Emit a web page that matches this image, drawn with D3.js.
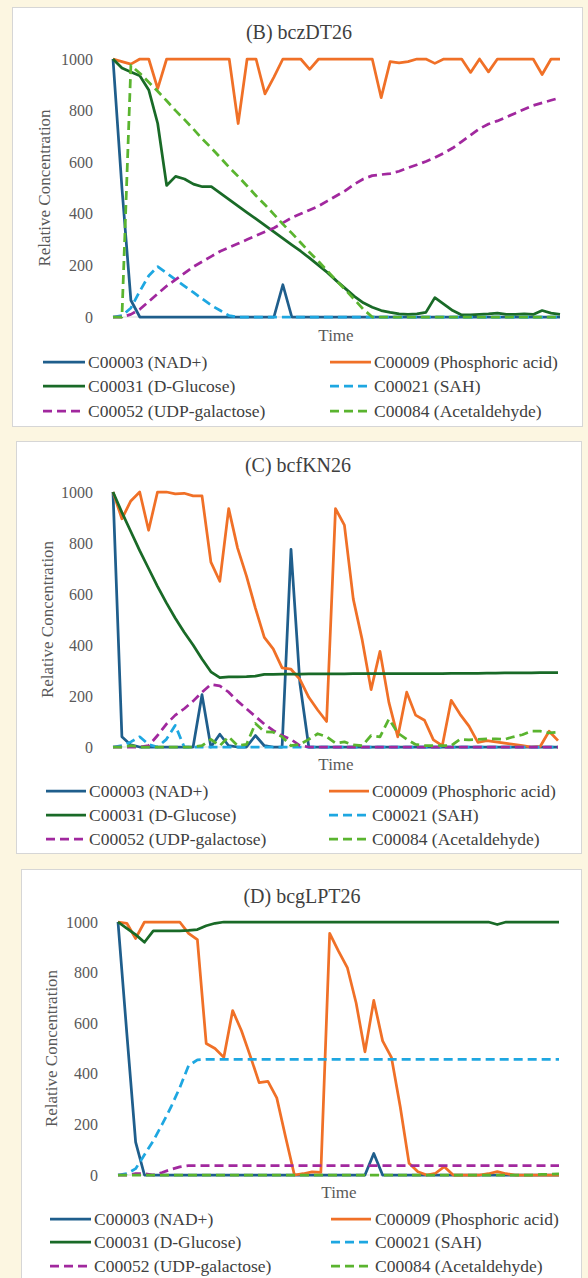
<!DOCTYPE html>
<html><head><meta charset="utf-8">
<script src="https://cdn.jsdelivr.net/npm/d3@7"></script>
<style>
html,body{margin:0;padding:0;background:#fcf6e1;}
svg{display:block;}
svg text{font-family:"Liberation Serif","DejaVu Serif","Times New Roman",serif;}
</style></head>
<body>
<svg id="chart" width="588" height="1278"></svg>
<script>
// ---------- DATA ----------
const timeSteps = [0,1,2,3,4,5,6,7,8,9,10,11,12,13,14,15,16,17,18,19,20,21,22,23,24,25,26,27,28,29,30,31,32,33,34,35,36,37,38,39,40,41,42,43,44,45,46,47,48,49,50];
const yTicks = [0,200,400,600,800,1000];

const seriesNames = ["C00003 (NAD+)","C00009 (Phosphoric acid)","C00031 (D-Glucose)","C00021 (SAH)","C00052 (UDP-galactose)","C00084 (Acetaldehyde)"];
const seriesColors = ["#1f5e8c","#f07027","#196a27","#1ea7e1","#a1289e","#5ab42f"];
const seriesDashed = [false,false,false,true,true,true];

const panelTitles = ["(B) bczDT26","(C) bcfKN26","(D) bcgLPT26"];

// Panel B
const bNAD  = [1000,500,65,0,0,0,0,0,0,0, 0,0,0,0,0,0,0,0,0,125, 0,0,0,0,0,0,0,0,0,0, 0,0,0,0,0,0,0,0,0,0, 0,0,0,0,0,0,0,0,0,0, 0];
const bPhos = [1000,990,980,1000,1000,885,1000,1000,1000,1000, 1000,1000,1000,1000,750,1000,1000,865,930,1000, 1000,1000,960,1000,1000,1000,1000,1000,1000,1000, 850,990,985,990,1000,1000,983,1000,1000,1000, 948,1000,950,1000,1000,1000,1000,1000,940,1000, 1000];
const bGluc = [1000,965,950,935,880,750,510,545,535,515, 505,505,480,455,430,405,380,355,330,305, 280,255,228,200,172,140,110,80,55,38, 25,18,12,10,12,18,75,50,25,8, 8,10,12,15,10,10,12,10,25,15, 10];
const bSAH  = [0,5,35,100,160,195,170,145,120,95, 70,45,25,5,0,0,0,0,0,0, 0,0,0,0,0,0,0,0,0,0, 0,0,0,0,0,0,0,0,0,0, 0,0,0,0,0,0,0,0,0,0, 0];
const bUDP  = [0,0,10,30,60,90,120,145,170,195, 215,235,255,270,285,300,315,330,345,365, 385,400,415,430,450,470,490,515,535,548, 552,556,565,578,590,603,618,635,655,680, 705,730,748,760,775,790,805,820,830,840, 850];
const bAcet = [0,0,975,945,910,875,838,800,765,728, 690,655,618,580,545,508,470,435,398,360, 325,288,250,215,178,140,105,68,30,0, 0,0,0,0,0,0,0,0,0,0, 0,0,0,0,0,0,0,0,0,0, 0];

// Panel C
const cNAD  = [1000,40,8,0,0,0,0,0,0,0, 205,0,50,5,0,0,45,5,0,0, 775,250,0,0,0,0,0,0,0,0, 0,0,0,0,0,0,0,0,0,0, 0,0,0,0,0,0,0,0,0,0, 0];
const cPhos = [1000,895,965,1000,850,1000,1000,993,995,985, 985,725,650,935,780,670,545,430,385,310, 305,265,195,145,100,935,870,580,420,225, 375,175,40,215,125,105,28,5,183,128, 82,18,25,20,15,10,5,0,2,62, 25];
const cGluc = [1000,920,845,770,700,630,565,505,450,400, 345,295,272,275,275,276,278,285,285,286, 286,286,287,287,287,287,287,288,288,288, 288,288,288,288,288,288,288,288,289,289, 289,289,290,290,291,291,291,291,292,292, 292];
const cSAH  = [0,5,20,40,10,0,30,85,0,0, 0,0,0,0,0,0,0,0,0,0, 0,0,0,0,0,0,0,0,0,0, 0,0,0,0,0,0,0,0,0,0, 0,0,0,0,0,0,0,0,0,0, 0];
const cUDP  = [0,0,0,0,5,45,90,125,150,180, 215,245,240,215,180,150,120,90,65,45, 30,5,0,0,0,0,0,0,0,0, 0,0,0,0,0,0,0,0,0,0, 0,0,0,0,0,0,0,0,0,0, 0];
const cAcet = [0,0,5,0,0,0,0,0,0,0, 5,30,5,40,5,10,92,60,58,40, 5,10,30,52,40,15,20,8,5,45, 40,110,55,30,10,5,5,5,5,30, 28,30,32,32,30,40,48,62,62,55, 58];

// Panel D
const dNAD  = [1000,560,130,0,0,0,0,0,0,0, 0,0,0,0,0,0,0,0,0,0, 0,0,0,0,0,0,0,0,0,85, 0,0,0,0,0,0,0,0,0,0, 0,0,0,0,0,0,0,0,0,0, 0];
const dPhos = [1000,995,935,1000,1000,1000,1000,1000,955,930, 520,500,465,650,570,470,365,370,305,150, 0,5,12,10,955,885,820,680,487,690, 530,465,270,46,13,0,7,33,0,0, 0,0,5,13,5,0,0,0,0,0, 0];
const dGluc = [1000,975,950,920,965,965,965,965,967,970, 985,995,1000,1000,1000,1000,1000,1000,1000,1000, 1000,1000,1000,1000,1000,1000,1000,1000,1000,1000, 1000,1000,1000,1000,1000,1000,1000,1000,1000,1000, 1000,1000,1000,990,1000,1000,1000,1000,1000,1000, 1000];
const dSAH  = [0,5,25,80,135,200,268,345,432,455, 457,457,457,457,457,457,457,457,457,457, 457,457,457,457,457,457,457,457,457,457, 457,457,457,457,457,457,457,457,457,457, 457,457,457,457,457,457,457,457,457,457, 457];
const dUDP  = [0,0,5,5,0,10,22,32,37,37, 37,37,37,37,37,37,37,37,37,37, 37,37,37,37,37,37,37,37,37,37, 37,37,37,37,37,37,37,37,37,37, 37,37,37,37,37,37,37,37,37,37, 37];
const dAcet = [0,0,0,0,0,0,0,0,0,0, 0,0,0,0,0,0,0,0,0,0, 0,0,0,0,0,0,0,0,0,0, 0,0,0,0,0,0,0,0,0,0, 0,0,0,0,0,0,0,0,2,3, 4];

// ---------- LAYOUT ----------
const panels = [
  {title: panelTitles[0], data: [bNAD,bPhos,bGluc,bSAH,bUDP,bAcet],
   rect:{x:12,y:7,w:570,h:419}, plot:{x0:113,x1:560,top:59,bot:317},
   titlePos:{x:299,y:39}, yLabX:44, timePos:{x:336,y:341},
   leg:{c1:[43,85,88], c2:[330,371,374], rows:[362,386,411]}},
  {title: panelTitles[1], data: [cNAD,cPhos,cGluc,cSAH,cUDP,cAcet],
   rect:{x:16,y:441,w:565,h:412}, plot:{x0:113,x1:558,top:492,bot:747},
   titlePos:{x:298,y:472}, yLabX:47, timePos:{x:336,y:770},
   leg:{c1:[46,86,89], c2:[329,369,372], rows:[791,815,839]}},
  {title: panelTitles[2], data: [dNAD,dPhos,dGluc,dSAH,dUDP,dAcet],
   rect:{x:21,y:869,w:560,h:430}, plot:{x0:118,x1:559,top:922,bot:1175},
   titlePos:{x:302,y:903}, yLabX:51, timePos:{x:339,y:1198},
   leg:{c1:[50,91,94], c2:[331,371,375], rows:[1219,1242,1266]}}
];

const svg = d3.select("#chart");
const serif = '"Liberation Serif","DejaVu Serif","Times New Roman",serif';

panels.forEach(p => {
  const g = svg.append("g");
  g.append("rect").attr("x",p.rect.x+0.5).attr("y",p.rect.y+0.5)
    .attr("width",p.rect.w).attr("height",p.rect.h)
    .attr("fill","#ffffff").attr("stroke","#d6d6d6").attr("stroke-width",1);

  const x = d3.scalePoint().domain(timeSteps).range([p.plot.x0,p.plot.x1]);
  const y = d3.scaleLinear().domain([0,1000]).range([p.plot.bot,p.plot.top]);

  g.append("text").attr("x",p.titlePos.x).attr("y",p.titlePos.y)
    .attr("text-anchor","middle").style("font-family",serif).style("font-size","20px")
    .attr("fill","#404040").text(p.title);

  const ax = g.append("g").attr("transform",`translate(${p.plot.x0},0)`)
    .call(d3.axisLeft(y).tickValues(yTicks).tickSize(0).tickPadding(20).tickFormat(d3.format("d")));
  ax.attr("font-family",null).attr("font-size",null);
  ax.select(".domain").remove();
  ax.selectAll("text").style("font-family",serif).style("font-size","16px").attr("fill","#595959");

  g.append("line").attr("x1",p.plot.x0).attr("x2",p.plot.x1)
    .attr("y1",y(0)).attr("y2",y(0)).attr("stroke","#d9d9d9").attr("stroke-width",1);

  g.append("text").attr("transform",`translate(${p.yLabX},${(p.plot.top+p.plot.bot)/2}) rotate(-90)`)
    .attr("text-anchor","middle").attr("dy","0.35em").style("font-family",serif).style("font-size","17px")
    .attr("fill","#595959").text("Relative Concentration");
  g.append("text").attr("x",p.timePos.x).attr("y",p.timePos.y)
    .attr("text-anchor","middle").style("font-family",serif).style("font-size","17px")
    .attr("fill","#595959").text("Time");

  const line = d3.line().x((d,i)=>x(timeSteps[i])).y(d=>y(d));
  p.data.forEach((vals,k) => {
    g.append("path").datum(vals).attr("d",line)
      .attr("fill","none").attr("stroke",seriesColors[k]).attr("stroke-width",2.75)
      .attr("stroke-linejoin","round")
      .attr("stroke-dasharray",seriesDashed[k] ? "9,5" : null);
  });

  seriesNames.forEach((name,k) => {
    const col = k % 2 === 0 ? p.leg.c1 : p.leg.c2;
    const ry = p.leg.rows[Math.floor(k/2)];
    g.append("line").attr("x1",col[0]).attr("x2",col[1]).attr("y1",ry).attr("y2",ry)
      .attr("stroke",seriesColors[k]).attr("stroke-width",2.75)
      .attr("stroke-dasharray",seriesDashed[k] ? "9,5" : null);
    g.append("text").attr("x",col[2]).attr("y",ry).attr("dy","0.35em")
      .style("font-family",serif).style("font-size","17.5px").attr("fill","#404040").text(name);
  });
});
</script>
</body></html>
